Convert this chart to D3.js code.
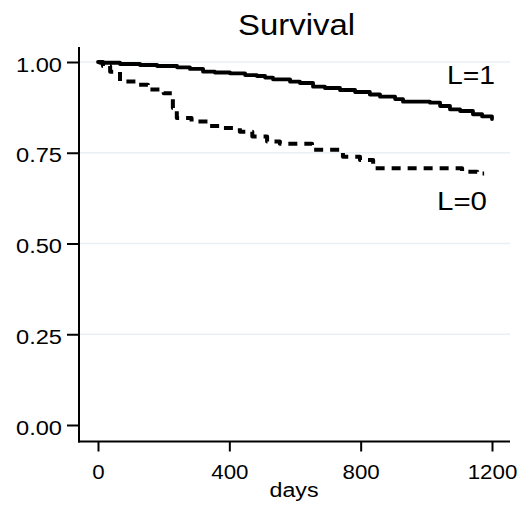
<!DOCTYPE html>
<html>
<head>
<meta charset="utf-8">
<script src="https://cdn.jsdelivr.net/npm/d3@7"></script>
<style>
  html, body { margin: 0; padding: 0; background: #ffffff; }
  svg { display: block; font-family: "Liberation Sans", Arial, Helvetica, sans-serif; }
</style>
</head>
<body>
<svg id="chart" width="523" height="505"></svg>
<script>
// Kaplan-Meier survival estimates by group (day, survival probability)
const daysL1 = [0, 6, 67, 128, 180, 241, 280, 320, 356, 402, 448, 484, 509, 533, 585, 615, 655, 691, 737, 783, 828, 859, 905, 929, 1011, 1042, 1072, 1103, 1142, 1170, 1200];
const survL1 = [1.000, 0.998, 0.9945, 0.9917, 0.989, 0.9854, 0.981, 0.9733, 0.9711, 0.9689, 0.964, 0.9614, 0.957, 0.9524, 0.9457, 0.9421, 0.932, 0.9284, 0.9229, 0.9174, 0.9105, 0.9044, 0.898, 0.8906, 0.8879, 0.8788, 0.8697, 0.865, 0.856, 0.850, 0.843];

const daysL0 = [0, 15, 37, 67, 115, 152, 200, 228, 240, 285, 335, 380, 432, 470, 515, 554, 652, 746, 798, 838, 1109, 1155, 1176];
const survL0 = [1.000, 0.989, 0.973, 0.946, 0.937, 0.924, 0.914, 0.873, 0.846, 0.836, 0.824, 0.818, 0.808, 0.795, 0.781, 0.775, 0.758, 0.739, 0.730, 0.707, 0.698, 0.693, 0.693];

const yTicks = [0, 0.25, 0.5, 0.75, 1];
const xTicks = [0, 400, 800, 1200];
const titleText = "Survival";
const xAxisTitle = "days";
const groupLabels = ["L=1", "L=0"];

const svg = d3.select("#chart");
const x = d3.scaleLinear().domain([0, 1200]).range([98, 492]);
const y = d3.scaleLinear().domain([0, 1]).range([425, 62]);

const axisX0 = 79, axisX1 = 510, axisYTop = 47, axisYBottom = 441.5;
const font = '"Liberation Sans", Arial, Helvetica, sans-serif';

// horizontal grid lines
svg.append("g").selectAll("line")
  .data(yTicks.filter(d => d > 0))
  .join("line")
  .attr("x1", axisX0).attr("x2", axisX1)
  .attr("y1", d => y(d)).attr("y2", d => y(d))
  .attr("stroke", "#e9eff2").attr("stroke-width", 1.6);

// y axis
const gy = svg.append("g").attr("transform", `translate(${axisX0},0)`)
  .call(d3.axisLeft(y).tickValues(yTicks).tickFormat(d3.format(".2f")).tickSize(12).tickPadding(5));
gy.select(".domain").remove();
gy.selectAll(".tick line").attr("stroke", "#000").attr("stroke-width", 2);
gy.selectAll(".tick text")
  .attr("x", -17).attr("dy", null).attr("y", 9)
  .attr("font-family", font).attr("font-size", 20).attr("fill", "#000")
  .attr("textLength", 46).attr("lengthAdjust", "spacingAndGlyphs");
svg.append("line").attr("x1", axisX0).attr("x2", axisX0)
  .attr("y1", axisYTop).attr("y2", axisYBottom + 1)
  .attr("stroke", "#000").attr("stroke-width", 2);

// x axis
const gx = svg.append("g").attr("transform", `translate(0,${axisYBottom})`)
  .call(d3.axisBottom(x).tickValues(xTicks).tickFormat(d3.format("d")).tickSize(10));
gx.select(".domain").remove();
gx.selectAll(".tick line").attr("stroke", "#000").attr("stroke-width", 2);
gx.selectAll(".tick text")
  .attr("y", 37).attr("dy", null)
  .attr("font-family", font).attr("font-size", 21).attr("fill", "#000")
  .attr("textLength", d => String(d).length * 12.4).attr("lengthAdjust", "spacingAndGlyphs");
svg.append("line").attr("x1", axisX0 - 1).attr("x2", axisX1)
  .attr("y1", axisYBottom).attr("y2", axisYBottom)
  .attr("stroke", "#000").attr("stroke-width", 2);

// x axis title
svg.append("text").attr("x", 294).attr("y", 497)
  .attr("text-anchor", "middle").attr("font-family", font).attr("font-size", 20)
  .attr("textLength", 49).attr("lengthAdjust", "spacingAndGlyphs")
  .text(xAxisTitle);

// chart title
svg.append("text").attr("x", 296.5).attr("y", 35)
  .attr("text-anchor", "middle").attr("font-family", font).attr("font-size", 29)
  .attr("textLength", 117).attr("lengthAdjust", "spacingAndGlyphs")
  .text(titleText);

// survival step curves
const line = d3.line().x(d => x(d[0])).y(d => y(d[1])).curve(d3.curveStepAfter);
const l1 = daysL1.map((d, i) => [d, survL1[i]]);
const l0 = daysL0.map((d, i) => [d, survL0[i]]);

svg.append("path").datum(l0).attr("d", line)
  .attr("fill", "none").attr("stroke", "#000").attr("stroke-width", 4)
  .attr("stroke-dasharray", "9,7").attr("stroke-linejoin", "round");
svg.append("path").datum(l1).attr("d", line)
  .attr("fill", "none").attr("stroke", "#000").attr("stroke-width", 3.8)
  .attr("stroke-linejoin", "round").attr("stroke-linecap", "round");

// group labels
svg.append("text").attr("x", 447).attr("y", 84)
  .attr("font-family", font).attr("font-size", 25.5)
  .attr("textLength", 48).attr("lengthAdjust", "spacingAndGlyphs")
  .text(groupLabels[0]);
svg.append("text").attr("x", 437).attr("y", 209.5)
  .attr("font-family", font).attr("font-size", 26)
  .attr("textLength", 50).attr("lengthAdjust", "spacingAndGlyphs")
  .text(groupLabels[1]);
</script>
</body>
</html>
